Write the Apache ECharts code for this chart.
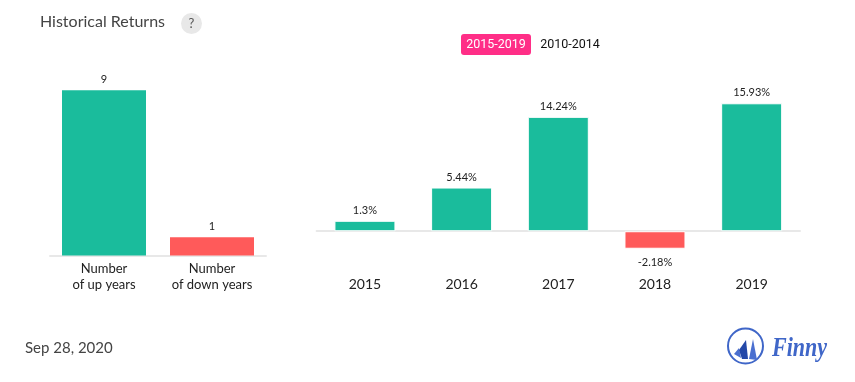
<!DOCTYPE html>
<html><head><meta charset="utf-8">
<style>html,body{margin:0;padding:0;background:#fff}#c{width:855px;height:382px}</style>
<script src="https://cdn.jsdelivr.net/npm/echarts@6/dist/echarts.min.js"></script>
</head><body><div id="c"></div>
<script>
var countCategories = ['Number\nof up years', 'Number\nof down years'];
var countValues = [9, 1];
var yearCategories = ['2015', '2016', '2017', '2018', '2019'];
var yearValues = [1.3, 5.44, 14.24, -2.18, 15.93];
var periods = ['2015-2019', '2010-2014'];
var GREEN = '#1abc9c', RED = '#ff5a5a';
function col(v){ return v >= 0 ? GREEN : RED; }
var chart = echarts.init(document.getElementById('c'), null, {renderer:'canvas'});
chart.setOption({
  animation:false,
  backgroundColor:'#fff',
  textStyle:{fontFamily:'Lato'},
  title:{text:'Historical Returns',left:40,top:14,padding:0,textStyle:{fontFamily:'Lato',fontSize:16,fontWeight:'normal',color:'#444'}},
  grid:[
    {left:50,width:216,top:72,height:183.5},
    {left:316.6,width:483.4,top:70.6,height:200.8}
  ],
  xAxis:[
    {type:'category',gridIndex:0,data:countCategories,axisTick:{show:false},
     axisLine:{lineStyle:{color:'#e8e8e8',width:2}},
     axisLabel:{margin:5,fontFamily:'Lato',fontSize:13,color:'#222',lineHeight:16,interval:0}},
    {type:'category',gridIndex:1,data:yearCategories,axisTick:{show:false},
     axisLine:{onZero:true,lineStyle:{color:'#e8e8e8',width:2}},
     axisLabel:{margin:6,fontFamily:'Lato',fontSize:14,color:'#222',interval:0}}
  ],
  yAxis:[
    {type:'value',gridIndex:0,min:0,max:10,show:false,splitLine:{show:false}},
    {type:'value',gridIndex:1,min:-5,max:20,show:false,splitLine:{show:false}}
  ],
  series:[
    {type:'bar',xAxisIndex:0,yAxisIndex:0,barWidth:84,
     data:countValues.map(function(v,i){return {value:v,itemStyle:{color:i===0?GREEN:RED}};}),
     label:{show:true,position:'top',distance:5,fontFamily:'Lato',fontSize:11,color:'#222'}},
    {type:'bar',xAxisIndex:1,yAxisIndex:1,barWidth:61,
     data:yearValues.map(function(v){return {
       value:v,
       itemStyle:{color:col(v),borderColor:'#fff',borderWidth:1},
       label:{position:v>=0?'top':'bottom',distance:v>=0?5:8}
     };}),
     label:{show:true,fontFamily:'Lato',fontSize:11,color:'#222',formatter:function(p){return p.value+'%';}}}
  ],
  graphic:[
    {type:'circle',shape:{cx:191.5,cy:23.5,r:10.5},style:{fill:'#e8e8e8'}},
    {type:'text',x:191.5,y:24,style:{text:'?',fill:'#555',font:'13px Lato',align:'center',verticalAlign:'middle'}},
    {type:'rect',shape:{x:461,y:34,width:70,height:21,r:3},style:{fill:'#ff2e87'}},
    {type:'text',x:496,y:45,style:{text:periods[0],fill:'#fff',font:'12.5px Roboto',align:'center',verticalAlign:'middle'}},
    {type:'text',x:570,y:45,style:{text:periods[1],fill:'#111',font:'12.5px Roboto',align:'center',verticalAlign:'middle'}},
    {type:'text',x:25,y:348,style:{text:'Sep 28, 2020',fill:'#444',font:'15px Lato',verticalAlign:'middle'}},
    {type:'circle',shape:{cx:745.5,cy:346,r:17.5},style:{fill:'#fff',stroke:'#3f66c8',lineWidth:2}},
    {type:'polygon',shape:{points:[[734,354],[739,348],[741,358]]},style:{fill:'#4a6fd0'}},
    {type:'polygon',shape:{points:[[742,359],[739,350],[746,340],[748,359]]},style:{fill:'#2448a8'}},
    {type:'polygon',shape:{points:[[749,359],[753,339],[757,360]]},style:{fill:'#4a6fd0'}},
    {type:'text',x:772,y:349,scaleY:1.25,style:{text:'Finny',fill:'#3f66c8',font:'italic bold 22px "Liberation Serif"',verticalAlign:'middle'}}
  ]
});
</script></body></html>
